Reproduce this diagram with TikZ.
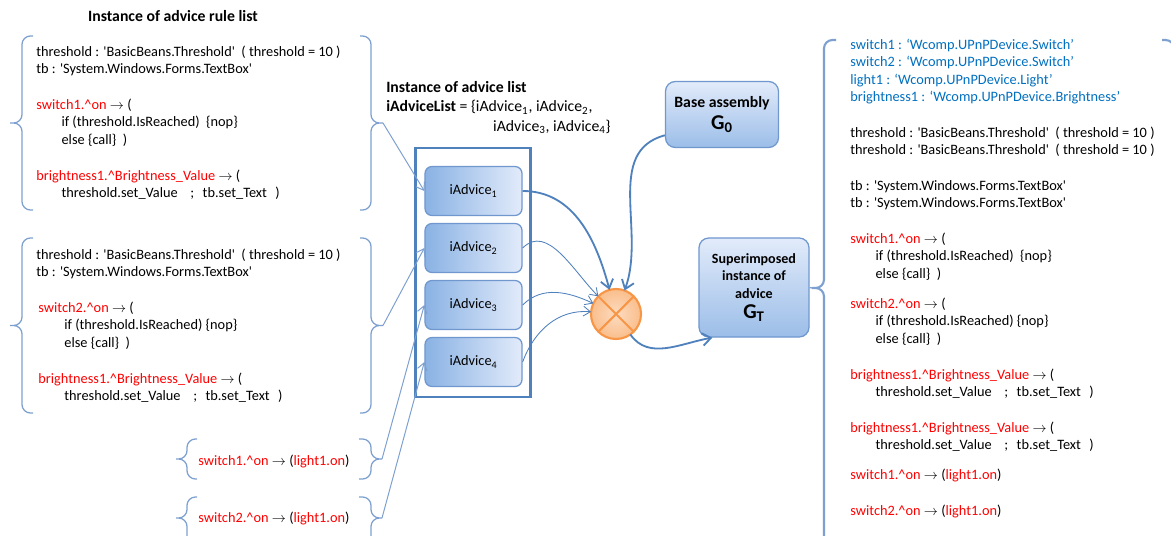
\documentclass[tikz,border=0pt]{standalone}
\usepackage{fontspec}
\setmainfont{Carlito}[Ligatures=TeXOff]
\usepackage{tikz}
\usetikzlibrary{arrows.meta,positioning}

\definecolor{ruleRed}{RGB}{255,0,0}
\definecolor{declBlue}{RGB}{0,112,192}
\definecolor{braceBlue}{RGB}{125,160,208}
\definecolor{arrowBlue}{RGB}{79,129,189}
\definecolor{boxDark}{RGB}{138,178,228}
\definecolor{boxLight}{RGB}{226,235,250}
\definecolor{boxEdge}{RGB}{112,152,207}
\definecolor{mixFill}{RGB}{250,190,140}
\definecolor{mixEdge}{RGB}{247,150,70}

\newcommand{\codefont}{\fontsize{10.2}{12.4}\selectfont}
\newcommand{\rto}{$\rightarrow$}

\begin{document}
\begin{tikzpicture}[x=0.025cm, y=0.025cm,
  code/.style={anchor=north west, inner sep=0pt, align=left, font=\codefont},
  heading/.style={font=\bfseries\fontsize{11.2}{13.9}\selectfont},
  brace line/.style={draw=braceBlue, line width=0.9pt, rounded corners=6pt},
  link/.style={draw=braceBlue, line width=0.7pt, -{Straight Barb[length=5pt,width=7pt]}},
  listbox/.style={rectangle, draw=arrowBlue, line width=2pt,
                  minimum width=2.875cm, minimum height=6.225cm},
  advice/.style={rectangle, draw=boxEdge, line width=0.9pt, rounded corners=5pt,
                 left color=boxDark, right color=boxLight,
                 minimum width=2.425cm, minimum height=1.225cm, font=\codefont},
  graph/.style={rectangle, draw=boxEdge, line width=0.9pt, rounded corners=7pt,
                top color=boxLight, bottom color=boxDark!85, align=center},
  mix/.style={circle, draw=mixEdge, line width=1.5pt, outer sep=0pt,
              inner color=mixFill!55!white, outer color=mixFill, minimum size=1.25cm},
  flow/.style={draw=arrowBlue, line width=1.3pt, -{Straight Barb[length=6pt,width=9pt]}},
  feed/.style={draw=arrowBlue, line width=0.6pt, -{Straight Barb[length=5pt,width=7pt]}}
]
\path[use as bounding box, fill=white] (0,0) rectangle (1171,535);
\clip (0,0) rectangle (1171,535);

% advice rules (left)
\node[heading] (ruleTitle) at (173, 519) {Instance of advice rule list};
\node[code] (rules1) at (36, 489.5) {%
  threshold : 'BasicBeans.Threshold' \ ( threshold = 10 )\\
  tb : 'System.Windows.Forms.TextBox'\\[13pt]
  \textcolor{ruleRed}{switch1.\textasciicircum on} \rto{} (\\
  \hspace*{18pt}if (threshold.IsReached) \ \{nop\}\\
  \hspace*{18pt}else \{call\} \ )\\[13pt]
  \textcolor{ruleRed}{brightness1.\textasciicircum Brightness\_Value} \rto{} (\\
  \hspace*{18pt}threshold.set\_Value\hspace{9pt};\hspace{6pt}tb.set\_Text\hspace{6pt})};
\node[code] (rules2) at (36, 286.5) {%
  threshold : 'BasicBeans.Threshold' \ ( threshold = 10 )\\
  tb : 'System.Windows.Forms.TextBox'\\[13pt]
  \hspace*{1.5pt}\textcolor{ruleRed}{switch2.\textasciicircum on} \rto{} (\\
  \hspace*{20pt}if (threshold.IsReached) \{nop\}\\
  \hspace*{20pt}else \{call\} \ )\\[13pt]
  \hspace*{1.5pt}\textcolor{ruleRed}{brightness1.\textasciicircum Brightness\_Value} \rto{} (\\
  \hspace*{20pt}threshold.set\_Value\hspace{9pt};\hspace{6pt}tb.set\_Text\hspace{6pt})};
\node[code] (rules3) at (198, 80.5)
  {\textcolor{ruleRed}{switch1.\textasciicircum on} \rto{} (\textcolor{ruleRed}{light1.on})};
\node[code] (rules4) at (198, 23.5)
  {\textcolor{ruleRed}{switch2.\textasciicircum on} \rto{} (\textcolor{ruleRed}{light1.on})};

% braces
\draw[brace line] (33,499) -| (22,412) -- (10,412) (10,412) -- (22,412) |- (33,325);
\draw[brace line] (360,499) -| (371,412) -- (383,412) (383,412) -- (371,412) |- (360,325);
\draw[brace line] (33,297) -| (22,209.5) -- (10,209.5) (10,209.5) -- (22,209.5) |- (33,122);
\draw[brace line] (360,297) -| (371,209.5) -- (383,209.5) (383,209.5) -- (371,209.5) |- (360,122);
\draw[brace line] (197,96) -| (187,76) -- (176,76) (176,76) -- (187,76) |- (197,56);
\draw[brace line] (359,96) -| (371,76) -- (382,76) (382,76) -- (371,76) |- (359,56);
\draw[brace line] (197,38) -| (187,17) -- (176,17) (176,17) -- (187,17) |- (197,-12);
\draw[brace line] (359,38) -| (371,17) -- (382,17) (382,17) -- (371,17) |- (359,-12);
\coordinate (r1) at (383,412);
\coordinate (r2) at (383,209.5);
\coordinate (r3) at (382,76);
\coordinate (r4) at (382,17);

% advice list
\node[heading, anchor=north west, inner sep=0pt, align=left] (listTitle) at (386, 454)
  {Instance of advice list\\
   iAdviceList {\mdseries = \{iAdvice\textsubscript{1}, iAdvice\textsubscript{2},}\\
   \mdseries\hspace*{76pt}iAdvice\textsubscript{3}, iAdvice\textsubscript{4}\}};
\node[listbox] (list) at (473, 262.5) {};
\foreach \i in {1,...,4}
  \node[advice] (adv\i) at (473.5, 401-57*\i) {iAdvice\textsubscript{\i}};
\draw[link] (r1) -- (adv1.west);
\draw[link] (r2) -- (adv2.west);
\draw[link] (r3) -- (adv3.west);
\draw[link] (r4) -- (adv4.west);

% weaving
\node[mix] (mix) at (616, 221) {};
\draw[mixEdge, line width=1.5pt] (mix.45) -- (mix.225) (mix.135) -- (mix.-45);
\node[graph, minimum width=2.825cm, minimum height=1.65cm,
      font=\bfseries\fontsize{11.2}{13}\selectfont] (base) at (722, 420.5)
  {Base assembly\\[2pt]{\fontsize{15}{15}\selectfont G\textsubscript{0}}};
\node[graph, minimum width=2.75cm, minimum height=2.475cm,
      font=\bfseries\fontsize{10}{12.4}\selectfont] (super) at (754, 247.5)
  {Superimposed\\instance of\\advice\\[2pt]{\fontsize{15}{15}\selectfont G\textsubscript{T}}};
\draw[flow] (adv1.east) to[out=0, in=105] (mix);
\draw[feed] (adv2.east) to[out=45, in=135] (mix);
\draw[feed] (adv3.east) to[out=45, in=155] (mix);
\draw[feed] (adv4.east) to[out=70, in=175] (mix);
\draw[flow] (base.200) to[out=195, in=70] (mix);
\draw[flow] (mix) to[out=-55, in=190] ([xshift=0.35cm]super.south west);

% resulting advice (right)
\coordinate (gtTip) at (812,247);
\draw[draw=braceBlue, line width=0.9pt] (super.east) -- (gtTip);
\draw[brace line, line width=1.5pt] (836,495) -| (824,247) -- (812,247) (812,247) -- (824,247) |- (836,-12);
\draw[brace line, line width=1.5pt] (1162,495) -| (1174,247) -- (1186,247);
\node[code] (result) at (850, 496.5) {%
  \textcolor{declBlue}{switch1 : ‘Wcomp.UPnPDevice.Switch’}\\
  \textcolor{declBlue}{switch2 : ‘Wcomp.UPnPDevice.Switch’}\\
  \textcolor{declBlue}{light1 : ‘Wcomp.UPnPDevice.Light’}\\
  \textcolor{declBlue}{brightness1 : ‘Wcomp.UPnPDevice.Brightness’}\\[13pt]
  threshold : 'BasicBeans.Threshold' \ ( threshold = 10 )\\
  threshold : 'BasicBeans.Threshold' \ ( threshold = 10 )\\[13pt]
  tb : 'System.Windows.Forms.TextBox'\\
  tb : 'System.Windows.Forms.TextBox'\\[13pt]
  \textcolor{ruleRed}{switch1.\textasciicircum on} \rto{} (\\
  \hspace*{18pt}if (threshold.IsReached) \ \{nop\}\\
  \hspace*{18pt}else \{call\} \ )\\[9pt]
  \textcolor{ruleRed}{switch2.\textasciicircum on} \rto{} (\\
  \hspace*{18pt}if (threshold.IsReached) \{nop\}\\
  \hspace*{18pt}else \{call\} \ )\\[13pt]
  \textcolor{ruleRed}{brightness1.\textasciicircum Brightness\_Value} \rto{} (\\
  \hspace*{18pt}threshold.set\_Value\hspace{9pt};\hspace{6pt}tb.set\_Text\hspace{6pt})\\[13pt]
  \textcolor{ruleRed}{brightness1.\textasciicircum Brightness\_Value} \rto{} (\\
  \hspace*{18pt}threshold.set\_Value\hspace{9pt};\hspace{6pt}tb.set\_Text\hspace{6pt})\\[9pt]
  \textcolor{ruleRed}{switch1.\textasciicircum on} \rto{} (\textcolor{ruleRed}{light1.on})\\[13pt]
  \textcolor{ruleRed}{switch2.\textasciicircum on} \rto{} (\textcolor{ruleRed}{light1.on})};
\end{tikzpicture}
\end{document}
